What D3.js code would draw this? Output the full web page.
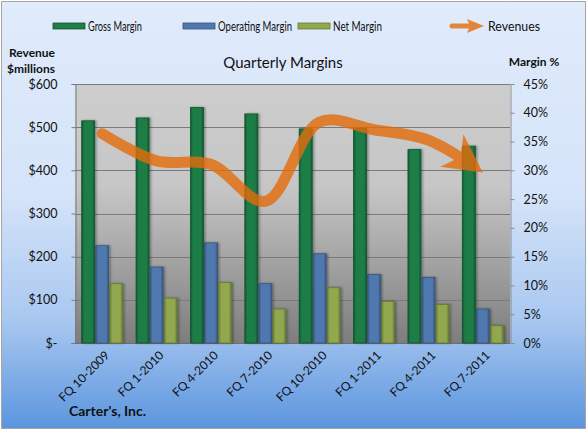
<!DOCTYPE html>
<html>
<head>
<meta charset="utf-8">
<script src="https://cdnjs.cloudflare.com/ajax/libs/d3/7.8.5/d3.min.js"></script>
<style>
  body { margin: 0; background: #fff; }
  text { font-family: Lato, "Open Sans", sans-serif; fill: #111; }
</style>
</head>
<body>
<div id="chart"></div>
<script>
// Chart values
const quarters = ['FQ 10-2009', 'FQ 1-2010', 'FQ 4-2010', 'FQ 7-2010', 'FQ 10-2010', 'FQ 1-2011', 'FQ 4-2011', 'FQ 7-2011']
const grossMargin = [38.6, 39.1, 40.9, 39.8, 37.2, 37.3, 33.6, 34.2]
const operatingMargin = [16.9, 13.2, 17.4, 10.3, 15.5, 11.9, 11.4, 5.9]
const netMargin = [10.3, 7.8, 10.5, 5.9, 9.6, 7.2, 6.7, 3.0]
const revenues = [485, 422, 414, 328, 512, 494, 470, 395]
const revenueTicks = [0, 100, 200, 300, 400, 500, 600]
const marginTicks = [0, 5, 10, 15, 20, 25, 30, 35, 40, 45]

const seriesNames = ['Gross Margin', 'Operating Margin', 'Net Margin']
const seriesValues = [grossMargin, operatingMargin, netMargin]
const seriesColors = [
  { mid: '#1f7d47', edge: '#125530' },
  { mid: '#5079ae', edge: '#36557f' },
  { mid: '#91a84f', edge: '#657a33' }
]
const lineColor = '#e46c0a'

const W = 587, H = 430
const plot = { left: 75, right: 510, top: 84, bottom: 343 }

const svg = d3.select('#chart').append('svg')
  .attr('width', W)
  .attr('height', H)

const defs = svg.append('defs')

// background gradients
const bg = defs.append('linearGradient').attr('id', 'bg').attr('x1', 0).attr('y1', 0).attr('x2', 0).attr('y2', 1)
bg.append('stop').attr('offset', 0).attr('stop-color', '#e0ebfb')
bg.append('stop').attr('offset', 0.45).attr('stop-color', '#d5e4f9')
bg.append('stop').attr('offset', 0.75).attr('stop-color', '#a8c7f0')
bg.append('stop').attr('offset', 1).attr('stop-color', '#5b95de')

const pg = defs.append('linearGradient').attr('id', 'plotbg').attr('x1', 0).attr('y1', 0).attr('x2', 0).attr('y2', 1)
pg.append('stop').attr('offset', 0).attr('stop-color', '#cdcdcd')
pg.append('stop').attr('offset', 0.4).attr('stop-color', '#c6c6c6')
pg.append('stop').attr('offset', 1).attr('stop-color', '#7d7d7d')

seriesColors.forEach((c, i) => {
  const g = defs.append('linearGradient').attr('id', 'bar' + i).attr('x1', 0).attr('y1', 0).attr('x2', 1).attr('y2', 0)
  g.append('stop').attr('offset', 0).attr('stop-color', c.edge)
  g.append('stop').attr('offset', 0.2).attr('stop-color', c.mid)
  g.append('stop').attr('offset', 0.8).attr('stop-color', c.mid)
  g.append('stop').attr('offset', 1).attr('stop-color', c.edge)
})

defs.append('filter').attr('id', 'shadow').attr('x', '-30%').attr('y', '-5%').attr('width', '160%').attr('height', '110%')
  .append('feDropShadow').attr('dx', 1.5).attr('dy', 0).attr('stdDeviation', 1).attr('flood-color', '#000').attr('flood-opacity', 0.35)

// arrow head for the revenue line (tip at the data point)
defs.append('marker')
  .attr('id', 'arrow')
  .attr('markerUnits', 'userSpaceOnUse')
  .attr('viewBox', '-40 -21 42 42')
  .attr('refX', 0).attr('refY', 0)
  .attr('markerWidth', 42).attr('markerHeight', 42)
  .attr('orient', 'auto')
  .append('path')
  .attr('d', 'M0,0 L-38,-20 L-27,0 L-38,20 Z')
  .attr('fill', lineColor)

// chart area
svg.append('rect')
  .attr('x', 1.5).attr('y', 1.5)
  .attr('width', W - 3).attr('height', H - 3)
  .attr('fill', 'url(#bg)')
  .attr('stroke', '#a6a6a6')

// scales
const x = d3.scaleBand()
  .domain(quarters)
  .range([plot.left, plot.right])
  .paddingInner(0.228)
  .paddingOuter(0.114)

const xSub = d3.scaleBand()
  .domain(seriesNames)
  .range([0, x.bandwidth()])

const yRev = d3.scaleLinear().domain([0, 600]).range([plot.bottom, plot.top])
const yPct = d3.scaleLinear().domain([0, 45]).range([plot.bottom, plot.top])

// plot area
svg.append('rect')
  .attr('x', plot.left).attr('y', plot.top)
  .attr('width', plot.right - plot.left).attr('height', plot.bottom - plot.top)
  .attr('fill', 'url(#plotbg)')

// gridlines
svg.append('g')
  .selectAll('line')
  .data(revenueTicks)
  .join('line')
  .attr('x1', plot.left).attr('x2', plot.right)
  .attr('y1', d => Math.round(yRev(d)) + 0.5)
  .attr('y2', d => Math.round(yRev(d)) + 0.5)
  .attr('stroke', '#7a7a7a')
  .attr('stroke-width', 1)

// left axis
const leftAxis = svg.append('g')
  .attr('transform', `translate(${plot.left + 0.5},0)`)
  .call(d3.axisLeft(yRev)
    .tickValues(revenueTicks)
    .tickSize(4)
    .tickPadding(14)
    .tickFormat(d => d === 0 ? '$-' : '$' + d))
leftAxis.select('.domain').attr('stroke', '#7a7a7a')
leftAxis.selectAll('line').attr('stroke', '#7a7a7a')
leftAxis.selectAll('text').style('font-size', '12.5px').attr('fill', '#111')

// right axis
const rightAxis = svg.append('g')
  .attr('transform', `translate(${plot.right + 0.5},0)`)
  .call(d3.axisRight(yPct)
    .tickValues(marginTicks)
    .tickSize(4)
    .tickPadding(9)
    .tickFormat(d => d + '%'))
rightAxis.select('.domain').attr('stroke', '#8c8c8c')
rightAxis.selectAll('line').attr('stroke', '#8c8c8c')
rightAxis.selectAll('text').style('font-size', '12.5px').attr('fill', '#111')

// bottom line of plot
svg.append('line')
  .attr('x1', plot.left).attr('x2', plot.right)
  .attr('y1', plot.bottom + 0.5).attr('y2', plot.bottom + 0.5)
  .attr('stroke', '#6f6f6f')

// bars
seriesNames.forEach((name, si) => {
  svg.append('g')
    .attr('filter', 'url(#shadow)')
    .selectAll('rect')
    .data(seriesValues[si])
    .join('rect')
    .attr('x', (d, i) => x(quarters[i]) + xSub(name) + 0.5)
    .attr('y', d => yPct(d))
    .attr('width', xSub.bandwidth() - 1)
    .attr('height', d => yPct(0) - yPct(d))
    .attr('fill', 'url(#bar' + si + ')')
    .attr('stroke', seriesColors[si].edge)
    .attr('stroke-width', 0.8)
})

// revenue line
const line = d3.line()
  .x((d, i) => x(quarters[i]) + x.bandwidth() / 2)
  .y(d => yRev(d))
  .curve(d3.curveCatmullRom.alpha(0.5))

const revG = svg.append('g').attr('opacity', 0.8)
const revPath = revG.append('path')
  .datum(revenues)
  .attr('d', line)
  .attr('fill', 'none')
  .attr('stroke', lineColor)
  .attr('stroke-width', 11)
  .attr('stroke-linecap', 'round')
  .attr('marker-end', 'url(#arrow)')
const len = revPath.node().getTotalLength()
revPath.attr('stroke-dasharray', `${len - 22} ${len}`)

// x labels
svg.append('g')
  .selectAll('text')
  .data(quarters)
  .join('text')
  .attr('transform', d => `translate(${x(d) + x.bandwidth() / 2 + 5},${plot.bottom + 10}) rotate(-45)`)
  .attr('text-anchor', 'end')
  .attr('dy', '0.35em')
  .style('font-size', '12px')
  .text(d => d)

// titles
svg.append('text')
  .attr('x', 283).attr('y', 68)
  .attr('text-anchor', 'middle')
  .style('font-size', '15px')
  .text('Quarterly Margins')

svg.append('text')
  .attr('x', 55).attr('y', 57)
  .attr('text-anchor', 'end')
  .style('font-size', '12px').style('font-weight', 'bold')
  .text('Revenue')
svg.append('text')
  .attr('x', 55).attr('y', 73)
  .attr('text-anchor', 'end')
  .style('font-size', '12px').style('font-weight', 'bold')
  .text('$millions')

svg.append('text')
  .attr('x', 534).attr('y', 66)
  .attr('text-anchor', 'middle')
  .style('font-size', '12px').style('font-weight', 'bold')
  .text('Margin %')

svg.append('text')
  .attr('x', 69).attr('y', 416)
  .style('font-size', '14px').style('font-weight', 'bold')
  .text("Carter's, Inc.")

// legend
const legend = svg.append('g')
const legendX = [53, 183, 298]
const legendW = [54, 74, 49]
seriesNames.forEach((name, i) => {
  legend.append('rect')
    .attr('x', legendX[i]).attr('y', 23)
    .attr('width', 32).attr('height', 6)
    .attr('fill', seriesColors[i].mid)
    .attr('stroke', seriesColors[i].edge)
    .attr('stroke-width', 0.8)
  legend.append('text')
    .attr('x', legendX[i] + 35).attr('y', 31)
    .style('font-size', '13px')
    .attr('textLength', legendW[i])
    .attr('lengthAdjust', 'spacingAndGlyphs')
    .text(name)
})
const legArrow = legend.append('g').attr('opacity', 0.8)
legArrow.append('line')
  .attr('x1', 452).attr('x2', 470)
  .attr('y1', 26).attr('y2', 26)
  .attr('stroke', lineColor)
  .attr('stroke-width', 5)
  .attr('stroke-linecap', 'round')
legArrow.append('path')
  .attr('d', 'M484,26 L467,19 L470,26 L467,33 Z')
  .attr('fill', lineColor)
legend.append('text')
  .attr('x', 488).attr('y', 31)
  .style('font-size', '13px')
  .attr('textLength', 52)
  .attr('lengthAdjust', 'spacingAndGlyphs')
  .text('Revenues')
</script>
</body>
</html>
